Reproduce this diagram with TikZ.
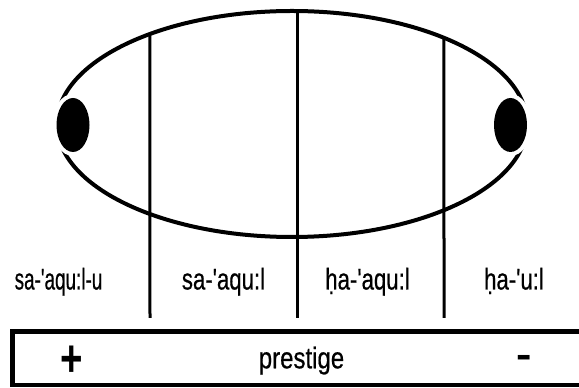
\documentclass[tikz,border=0pt]{standalone}
\usepackage{fontspec}
\setmainfont{Liberation Sans}[Ligatures=TeXOff]
\newfontfamily\labfont{Liberation Sans}[Ligatures=TeXOff,FakeBold=0.6]
\usetikzlibrary{calc}
\begin{document}
\begin{tikzpicture}[x=1pt,y=1pt,
  lab/.style={anchor=base, inner sep=0pt, font=\labfont\fontsize{30}{36}\selectfont},
  ell/.style={line width=4pt},
  sepline/.style={line width=3pt},
  gapdot/.style={fill=white},
  bigdot/.style={fill=black},
  frame/.style={line width=4.5pt}]
\useasboundingbox (0,0) rectangle (579,388);
% ellipse
\coordinate (c) at (292,264);
\draw[ell] (c) ellipse [x radius=235, y radius=113];
% dots with white gap around
\coordinate (dl) at (73,263);
\coordinate (dr) at (510.5,263);
\fill[gapdot] (dl) ellipse [x radius=21, y radius=31];
\fill[gapdot] (dr) ellipse [x radius=21, y radius=31];
\fill[bigdot] (dl) ellipse [x radius=16.5, y radius=27];
\fill[bigdot] (dr) ellipse [x radius=16.5, y radius=27];
% separator lines
\coordinate (t1) at ($(c)+(127.2:235pt and 113pt)$);
\coordinate (t2) at (297,377);
\coordinate (t3) at ($(c)+(49.7:235pt and 113pt)$);
\coordinate (b1) at (150,70);
\coordinate (b2) at (297,70);
\coordinate (b3) at (444,70);
\draw[sepline] (t1) -- (b1);
\draw[sepline] (t2) -- (b2);
\draw[sepline] (t3) -- (b3);
% labels
\node[lab] (l1) at (58.5,98.5) {\scalebox{0.63}[1]{sa-'aqu:l-u}};
\node[lab] (l2) at (223.5,98.5) {\scalebox{0.74}[1]{sa-'aqu:l}};
\node[lab] (l3) at (367.5,98.5) {\scalebox{0.74}[1]{ḥa-'aqu:l}};
\node[lab] (l4) at (514,98.5) {\scalebox{0.74}[1]{ḥa-'u:l}};
% prestige box
\coordinate (bxa) at (12.5,56.3);
\coordinate (bxb) at (590,3);
\draw[frame] (bxa) rectangle (bxb);
\node[lab] (pr) at (301.5,19.7) {\scalebox{0.8}[1]{prestige}};
\node[inner sep=0pt, font=\fontsize{52}{60}\selectfont\bfseries] (plus) at (72,26.5) {\scalebox{0.74}[1]{+}};
\node[inner sep=0pt, font=\fontsize{42}{50}\selectfont\bfseries] (minus) at (524.5,26.5) {\scalebox{1.1}[0.9]{-}};
\end{tikzpicture}
\end{document}
